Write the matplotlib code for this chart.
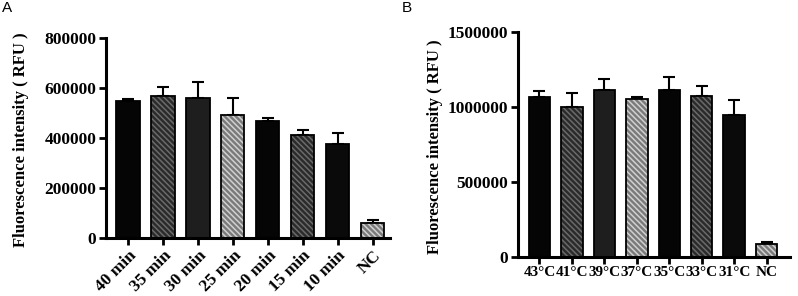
import matplotlib
matplotlib.use('Agg')
import matplotlib.pyplot as plt
import numpy as np

# data
time_labels = ['40 min', '35 min', '30 min', '25 min', '20 min', '15 min', '10 min', 'NC']
time_means = [549000, 569000, 561000, 492000, 470000, 412000, 376000, 62000]
time_err = [8000, 36000, 64000, 68000, 10000, 23000, 45000, 11000]

temp_labels = ['43°C', '41°C', '39°C', '37°C', '35°C', '33°C', '31°C', 'NC']
temp_means = [1063000, 996000, 1113000, 1051000, 1109000, 1071000, 945000, 84000]
temp_err = [40000, 97000, 72000, 14000, 89000, 67000, 98000, 16000]

# bar styles cycle: solid black, dark hatch, dark grey, light hatch
styles = [('#050505', None, None),
          ('#2a2a2a', '\\\\\\\\\\\\', '#6a6a6a'),
          ('#1e1e1e', None, None),
          ('#7a7a7a', '\\\\\\\\\\\\', '#d0d0d0'),
          ('#050505', None, None),
          ('#2a2a2a', '\\\\\\\\\\\\', '#6a6a6a'),
          ('#0a0a0a', None, None),
          ('#7a7a7a', '\\\\\\\\\\\\', '#d0d0d0')]

plt.rcParams['hatch.linewidth'] = 1.1
serif = 'Liberation Serif'

fig = plt.figure(figsize=(7.98, 2.96), dpi=100)
axA = fig.add_axes([0.1328, 0.195, 0.3559, 0.6757])
axB = fig.add_axes([0.6491, 0.1328, 0.3409, 0.760])


def draw(ax, labels, means, err, ymax, step, xlim, rot, xsize):
    x = np.arange(len(labels))
    for i in range(len(labels)):
        face, hatch, hcol = styles[i]
        if hatch:
            ax.bar(x[i], means[i], width=0.66, color=face, edgecolor=hcol,
                   hatch=hatch, linewidth=0, zorder=2)
        else:
            ax.bar(x[i], means[i], width=0.66, color=face, linewidth=0, zorder=2)
        ax.bar(x[i], means[i], width=0.66, fill=False, edgecolor='black',
               linewidth=1.3, zorder=3)
    ax.errorbar(x, means, yerr=[np.zeros(len(means)), err], fmt='none',
                ecolor='black', elinewidth=1.5, capsize=4.3, capthick=1.5, zorder=1)
    ax.set_xlim(*xlim)
    ax.set_ylim(0, ymax)
    ax.set_yticks(np.arange(0, ymax + 1, step))
    ax.set_yticklabels([str(int(v)) for v in np.arange(0, ymax + 1, step)])
    ax.set_xticks(x)
    if rot:
        ax.set_xticklabels(labels, rotation=45, ha='right', rotation_mode='anchor')
    else:
        ax.set_xticklabels(labels)
    for s in ['top', 'right']:
        ax.spines[s].set_visible(False)
    for s in ['left', 'bottom']:
        ax.spines[s].set_linewidth(2.2)
    ax.tick_params(width=2, length=5, labelsize=12.5, pad=2)
    ax.tick_params(axis='x', labelsize=xsize)
    for t in ax.get_xticklabels() + ax.get_yticklabels():
        t.set_fontfamily(serif)
        t.set_fontweight('bold')
    ax.set_ylabel('Fluorescence intensity ( RFU )', fontsize=12,
                  fontfamily=serif, fontweight='bold')


draw(axA, time_labels, time_means, time_err, 800000, 200000, (-0.63, 7.49), True, 12.5)
draw(axB, temp_labels, temp_means, temp_err, 1500000, 500000, (-0.66, 7.72), False, 11)

axA.yaxis.set_label_coords(29 / 798, 0.527, transform=fig.transFigure)
axB.yaxis.set_label_coords(443 / 798, 0.505, transform=fig.transFigure)

fig.text(0.003, 0.995, 'A', fontsize=11, fontfamily='Liberation Sans', va='top')
fig.text(0.503, 0.995, 'B', fontsize=11, fontfamily='Liberation Sans', va='top')

fig.savefig('out.png', dpi=100)
